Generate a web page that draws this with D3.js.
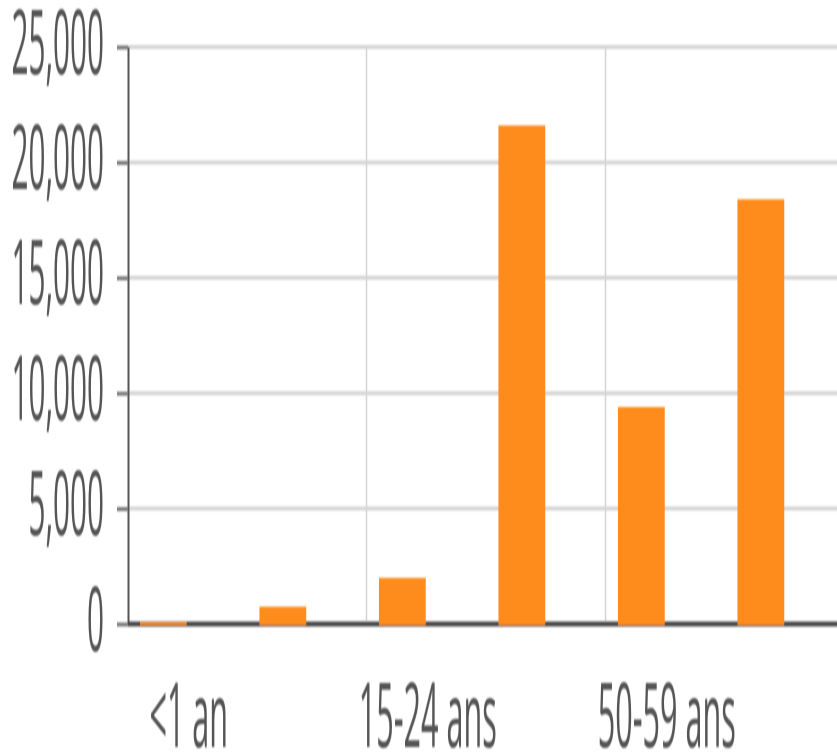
<!DOCTYPE html>
<html>
<head>
<meta charset="utf-8">
<script src="https://cdn.jsdelivr.net/npm/d3@7"></script>
<style>
  html, body { margin: 0; padding: 0; background: #fff; }
  svg { display: block; }
</style>
</head>
<body>
<div id="chart"></div>
<script>
// Data
const categories = ['<1 an', '1-14 ans', '15-24 ans', '25-49 ans', '50-59 ans', '60 ans et +'];
const values = [80, 750, 2000, 21600, 9400, 18400];
const slots = ['valeur', 'vide'];          // second slot of each group is empty
const yTicks = [0, 5000, 10000, 15000, 20000, 25000];
const shownLabels = ['<1 an', '15-24 ans', '50-59 ans'];

const width = 837;
const height = 753;
const plotLeft = 128, plotTop = 47, plotBottom = 624;
const textScale = 0.33;   // the picture is squeezed horizontally

const svg = d3.select('#chart')
  .append('svg')
  .attr('width', width)
  .attr('height', height)
  .attr('viewBox', `0 0 ${width} ${height}`);

// soft edges like the upscaled original
svg.append('defs')
  .append('filter')
  .attr('id', 'soft')
  .append('feGaussianBlur')
  .attr('stdDeviation', '0.7 0.9');

const g = svg.append('g').attr('filter', 'url(#soft)');

const x0 = d3.scaleBand()
  .domain(categories)
  .range([plotLeft, plotLeft + 6 * 119.5]);

const x1 = d3.scaleBand()
  .domain(slots)
  .range([0, x0.bandwidth()])
  .paddingOuter(0.25);

const y = d3.scaleLinear()
  .domain([0, 25000])
  .range([plotBottom, plotTop]);

// Horizontal gridlines
g.append('g')
  .selectAll('line')
  .data(yTicks.filter(d => d > 0))
  .join('line')
  .attr('x1', plotLeft)
  .attr('x2', width)
  .attr('y1', d => y(d))
  .attr('y2', d => y(d))
  .attr('stroke', '#d6d6d6')
  .attr('stroke-width', 4);

// Vertical gridlines at the labelled categories
g.append('g')
  .selectAll('line')
  .data(shownLabels.slice(1))
  .join('line')
  .attr('x1', d => x0(d) - 0.5)
  .attr('x2', d => x0(d) - 0.5)
  .attr('y1', plotTop)
  .attr('y2', plotBottom)
  .attr('stroke', '#d4d4d4')
  .attr('stroke-width', 1.5);

// Y axis
const yAxis = g.append('g')
  .attr('transform', `translate(${plotLeft},0)`)
  .call(d3.axisLeft(y).tickValues(yTicks).tickFormat(d3.format(',')).tickSize(11));

yAxis.select('.domain')
  .attr('d', `M0.5,${plotTop}V${plotBottom}`)
  .attr('stroke', '#555')
  .attr('stroke-width', 2);

yAxis.selectAll('.tick line')
  .attr('stroke', '#7a7a7a')
  .attr('stroke-width', 4);

yAxis.selectAll('.tick text')
  .attr('x', null)
  .attr('dy', null)
  .attr('transform', 'translate(-24,26) scale(' + textScale + ',1)')
  .attr('text-anchor', 'end')
  .attr('font-family', '"Open Sans", sans-serif')
  .attr('font-size', 90)
  .attr('fill', '#555');

// Baseline
g.append('line')
  .attr('x1', plotLeft)
  .attr('x2', width)
  .attr('y1', y(0))
  .attr('y2', y(0))
  .attr('stroke', '#4a4a4a')
  .attr('stroke-width', 5);

// Bars
g.append('g')
  .selectAll('rect')
  .data(categories.map((c, i) => ({ c, v: values[i] })))
  .join('rect')
  .attr('x', d => x0(d.c) + x1('valeur'))
  .attr('y', d => y(d.v))
  .attr('width', x1.bandwidth() - 1)
  .attr('height', d => y(0) - y(d.v) + 1)
  .attr('fill', '#fd8c1f');

// Category labels (every other one)
g.append('g')
  .selectAll('text')
  .data(shownLabels)
  .join('text')
  .attr('transform', d => `translate(${x0(d) + x0.bandwidth() / 2 + 1},747) scale(${textScale + 0.01},1)`)
  .attr('text-anchor', 'middle')
  .attr('font-family', '"Open Sans", sans-serif')
  .attr('font-size', 90)
  .attr('fill', '#555')
  .text(d => d);
</script>
</body>
</html>
